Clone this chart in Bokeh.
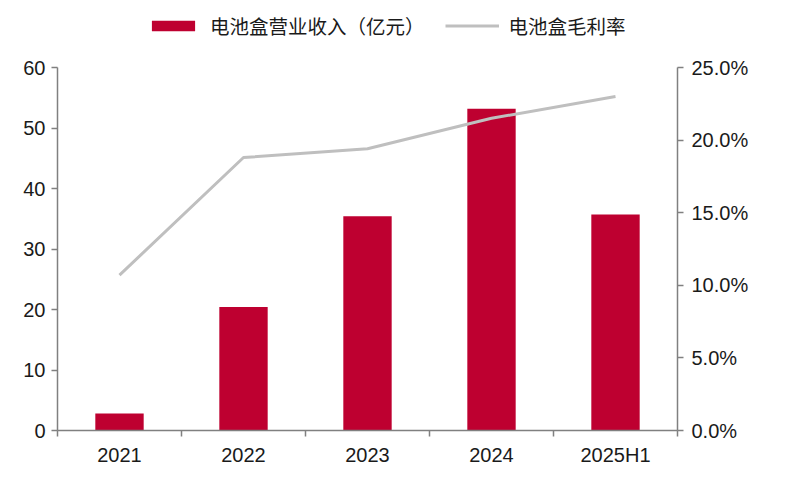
from bokeh.plotting import figure
from bokeh.models import (Range1d, LinearAxis, FixedTicker, PrintfTickFormatter,
                          Legend, LegendItem, ColumnDataSource)
from bokeh.embed import file_html
from bokeh.resources import INLINE

categories = ["2021", "2022", "2023", "2024", "2025H1"]
revenue = [2.8, 20.4, 35.4, 53.2, 35.7]          # 电池盒营业收入（亿元）
margin_pct = [10.7, 18.8, 19.4, 21.5, 23.0]      # 电池盒毛利率 (%)
left_ticks = [0, 10, 20, 30, 40, 50, 60]
right_ticks = [0, 5, 10, 15, 20, 25]
LEFT_MAX = 60
RIGHT_MAX = 25

BAR = "#BE0030"
LINE = "#BFBFBF"
AXIS = "#808080"
TXT = "#1A1A1A"
FONT = "Liberation Sans"
CJK = "Noto Sans CJK SC"

# frame extends above the axes' top so the legend sits inside it
FRAME_TOP, AXIS_TOP, AXIS_BOTTOM = 4, 67, 430
stretch = (AXIS_BOTTOM - FRAME_TOP) / (AXIS_BOTTOM - AXIS_TOP)

xs = [i + 0.5 for i in range(len(categories))]
src = ColumnDataSource(dict(x=xs, rev=revenue, m=margin_pct))

p = figure(width=785, height=482, output_backend="svg", toolbar_location=None,
           x_range=Range1d(0, len(categories)),
           y_range=Range1d(0, LEFT_MAX * stretch),
           min_border_left=57, min_border_right=108, min_border_top=FRAME_TOP,
           min_border_bottom=482 - AXIS_BOTTOM)
p.outline_line_color = None
p.xgrid.visible = False
p.ygrid.visible = False
p.extra_y_ranges = {"pct": Range1d(0, RIGHT_MAX * stretch)}

bars = p.vbar(x="x", top="rev", width=0.39, source=src, fill_color=BAR,
              line_color=None)
ln = p.line(x="x", y="m", source=src, y_range_name="pct", line_color=LINE,
            line_width=3)

# x axis: labels at centers, tick marks at category boundaries
xa = p.xaxis[0]
xa.ticker = FixedTicker(ticks=xs, minor_ticks=list(range(len(categories) + 1)))
xa.major_label_overrides = {x: c for x, c in zip(xs, categories)}
xa.major_tick_line_color = None
xa.major_tick_out = 6
xa.minor_tick_line_color = AXIS
xa.minor_tick_line_width = 1.5
xa.minor_tick_in = 0
xa.minor_tick_out = 6
xa.axis_line_color = AXIS
xa.axis_line_width = 1.5
xa.major_label_standoff = 7
xa.major_label_text_font = FONT
xa.major_label_text_font_size = "20px"
xa.major_label_text_color = TXT

ya = p.yaxis[0]
ya.ticker = FixedTicker(ticks=left_ticks)
ya.bounds = (0, LEFT_MAX)
ya.minor_tick_line_color = None
ya.major_tick_line_color = AXIS
ya.major_tick_line_width = 1.5
ya.major_tick_in = 0
ya.major_tick_out = 6
ya.axis_line_color = AXIS
ya.axis_line_width = 1.5
ya.major_label_standoff = 6
ya.major_label_text_font = FONT
ya.major_label_text_font_size = "20px"
ya.major_label_text_color = TXT

ra = LinearAxis(y_range_name="pct", ticker=FixedTicker(ticks=right_ticks),
                formatter=PrintfTickFormatter(format="%.1f%%"),
                bounds=(0, RIGHT_MAX))
ra.minor_tick_line_color = None
ra.major_tick_line_color = AXIS
ra.major_tick_line_width = 1.5
ra.major_tick_in = 0
ra.major_tick_out = 6
ra.axis_line_color = AXIS
ra.axis_line_width = 1.5
ra.major_label_standoff = 8
ra.major_label_text_font = FONT
ra.major_label_text_font_size = "20px"
ra.major_label_text_color = TXT
p.add_layout(ra, "right")

legend = Legend(items=[LegendItem(label="电池盒营业收入（亿元）", renderers=[bars]),
                       LegendItem(label="电池盒毛利率", renderers=[ln])],
                orientation="horizontal", location=(89, 390),
                glyph_width=54, glyph_height=13, label_standoff=10, spacing=20,
                padding=0, margin=0, border_line_color=None,
                background_fill_alpha=0,
                label_text_font=CJK, label_text_font_size="19.5px",
                label_text_color=TXT)
p.add_layout(legend, "center")

open("out.html", "w").write(file_html(p, INLINE))
